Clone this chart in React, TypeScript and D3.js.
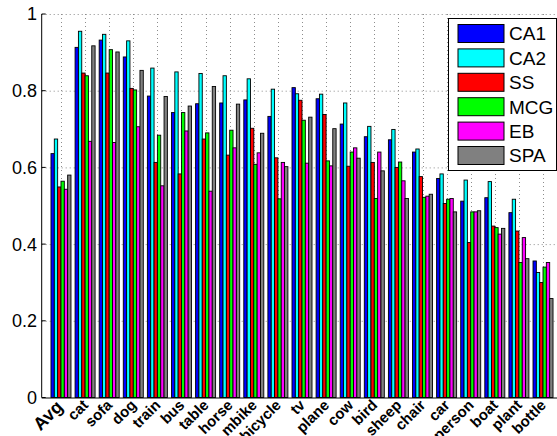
import React from "react";
import * as d3 from "d3";

const categories = ["Avg", "cat", "sofa", "dog", "train", "bus", "table", "horse", "mbike", "bicycle", "tv", "plane", "cow", "bird", "sheep", "chair", "car", "person", "boat", "plant", "bottle"];

const seriesNames = ["CA1", "CA2", "SS", "MCG", "EB", "SPA"];
const seriesColors = ["#0000ff", "#00ffff", "#ff0000", "#00ff00", "#ff00ff", "#808080"];

const CA1 = [0.636, 0.913, 0.932, 0.888, 0.786, 0.743, 0.766, 0.768, 0.776, 0.733, 0.808, 0.779, 0.713, 0.680, 0.672, 0.640, 0.571, 0.512, 0.521, 0.482, 0.356];
const CA2 = [0.674, 0.955, 0.947, 0.930, 0.859, 0.849, 0.845, 0.839, 0.831, 0.804, 0.792, 0.791, 0.768, 0.707, 0.699, 0.648, 0.583, 0.567, 0.563, 0.517, 0.326];
const SS = [0.549, 0.846, 0.846, 0.806, 0.613, 0.583, 0.674, 0.632, 0.702, 0.625, 0.775, 0.738, 0.603, 0.613, 0.600, 0.576, 0.506, 0.404, 0.447, 0.434, 0.300];
const MCG = [0.564, 0.839, 0.907, 0.802, 0.684, 0.743, 0.690, 0.697, 0.608, 0.518, 0.723, 0.617, 0.640, 0.519, 0.614, 0.522, 0.517, 0.484, 0.443, 0.352, 0.340];
const EB = [0.543, 0.668, 0.665, 0.706, 0.552, 0.695, 0.538, 0.651, 0.638, 0.613, 0.611, 0.604, 0.651, 0.640, 0.565, 0.525, 0.519, 0.484, 0.426, 0.417, 0.352];
const SPA = [0.580, 0.917, 0.901, 0.853, 0.785, 0.760, 0.811, 0.765, 0.689, 0.602, 0.731, 0.701, 0.624, 0.591, 0.519, 0.530, 0.484, 0.487, 0.441, 0.362, 0.258];

const seriesValues = [CA1, CA2, SS, MCG, EB, SPA];
const yTicks = [0, 0.2, 0.4, 0.6, 0.8, 1];

const W = 557;
const H = 436;
const FONT = "'Liberation Sans', Arial, Helvetica, sans-serif";

export default function App() {
  const x = d3.scaleLinear().domain([0.2, 21.8]).range([41.7, 562.3]);
  const y = d3.scaleLinear().domain([0, 1]).range([397.5, 14]);

  const unit = x(2) - x(1);
  const groupWidth = 0.83 * unit;
  const barW = groupWidth / seriesNames.length;

  const x0 = x(0.2);
  const x1 = x(21.8);

  const legX = 448;
  const legY = 18;
  const legW = 108;
  const legH = 152;
  const rowH = 24.4;

  return (
    <svg width={W} height={H} style={{ position: "absolute", left: 0, top: 0, background: "#fff" }} fontFamily={FONT}>
      <rect x={0} y={0} width={W} height={H} fill="#fff" />
      {/* grid */}
      <g stroke="#8c8c8c" strokeWidth={1} strokeDasharray="1,3">
        {yTicks.filter((t) => t > 0).map((t) => (
          <line key={"h" + t} x1={x0} x2={x1} y1={y(t) + 0.5} y2={y(t) + 0.5} />
        ))}
        {categories.map((c, i) => (
          <line key={"v" + c} x1={Math.round(x(i + 1)) + 0.5} x2={Math.round(x(i + 1)) + 0.5} y1={y(1)} y2={y(0)} />
        ))}
      </g>
      {/* bars */}
      <g stroke="#000" strokeWidth={0.9}>
        {categories.map((c, i) =>
          seriesValues.map((vals, s) => {
            const bx = x(i + 1) - groupWidth / 2 + s * barW;
            return (
              <rect
                key={c + s}
                x={bx}
                y={y(vals[i])}
                width={barW}
                height={y(0) - y(vals[i])}
                fill={seriesColors[s]}
              />
            );
          })
        )}
      </g>
      {/* axes */}
      <line x1={x0} x2={x0} y1={y(1)} y2={y(0)} stroke="#000" strokeWidth={1} />
      <line x1={x0} x2={x1} y1={y(0) + 0.5} y2={y(0) + 0.5} stroke="#000" strokeWidth={1} />
      {yTicks.map((t) => (
        <g key={"yt" + t}>
          <line x1={x0} x2={x0 + 4} y1={y(t)} y2={y(t)} stroke="#000" />
          <text x={37} y={y(t)} dy="0.36em" textAnchor="end" fontSize={18} fill="#000">
            {d3.format("~g")(t)}
          </text>
        </g>
      ))}
      {categories.map((c, i) => {
        const ax = x(i + 1) + (i === 0 ? 3 : 4);
        const ay = i === 0 ? 408 : 406;
        return (
          <text
            key={"xl" + c}
            x={ax}
            y={ay}
            transform={`rotate(-45 ${ax} ${ay})`}
            textAnchor="end"
            fontSize={i === 0 ? 18 : 15}
            fontWeight="bold"
            fill="#000"
          >
            {c}
          </text>
        );
      })}
      {/* legend */}
      <rect x={legX + 0.5} y={legY + 0.5} width={legW} height={legH} fill="#fff" stroke="#000" strokeWidth={1} />
      {seriesNames.map((n, s) => (
        <g key={"lg" + n}>
          <rect x={458} y={24.5 + s * rowH} width={46} height={18} fill={seriesColors[s]} stroke="#000" strokeWidth={1} />
          <text x={509} y={33.5 + s * rowH} dy="0.36em" fontSize={19} fill="#000">
            {n}
          </text>
        </g>
      ))}
    </svg>
  );
}
